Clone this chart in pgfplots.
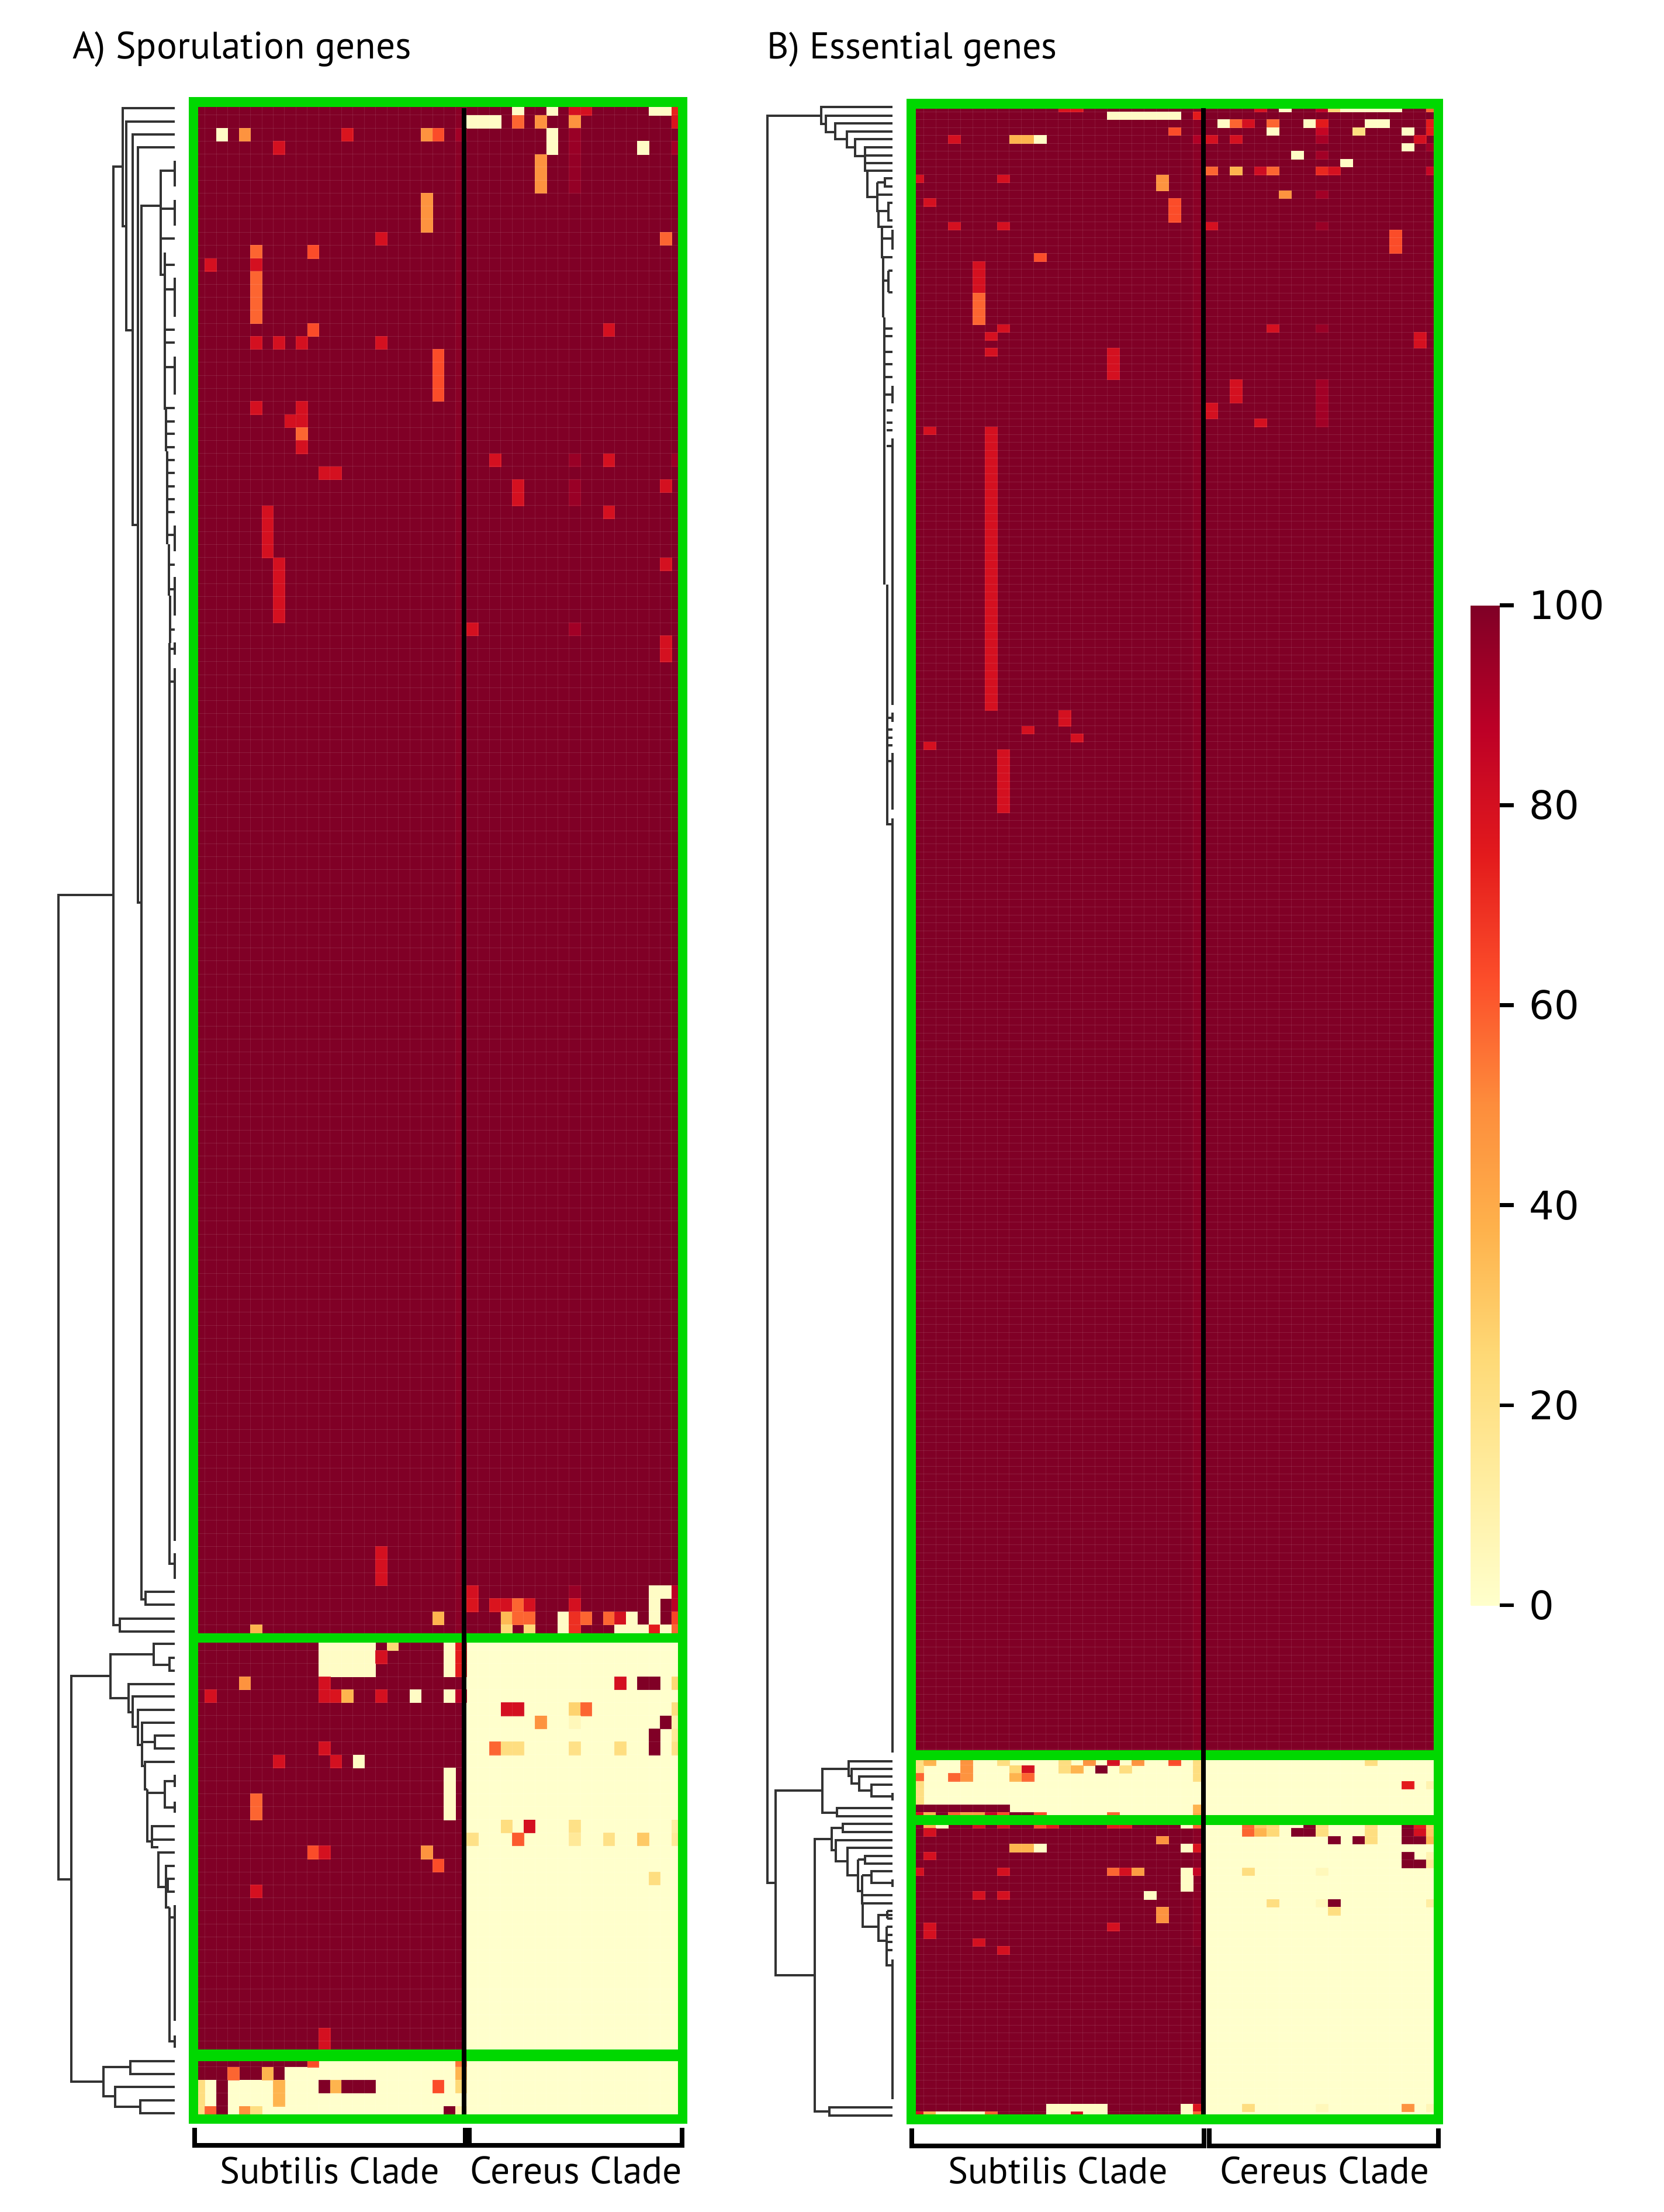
\documentclass[border=0pt]{standalone}
\usepackage{pgfplots}
\usepackage{fontspec}
\pgfplotsset{compat=1.18}
\setmainfont{PT Sans}
\newfontfamily\tickfont{DejaVu Sans}
\definecolor{dk}{HTML}{800026}
\definecolor{dkt}{HTML}{8A0026}
\definecolor{pale}{HTML}{FFFFCC}
\definecolor{grn}{HTML}{00D800}
\definecolor{den}{HTML}{333333}
\newcommand\rect[5]{\addplot[fill=#1,draw=none,forget plot] coordinates {(#2,#3)(#4,#3)(#4,#5)(#2,#5)} -- cycle;}
\pgfplotsset{
  cellsA/.style={scatter,only marks,forget plot,mark=square*,mark size=2.434pt,
    mark options={yscale=1.1433,line width=0.02pt},point meta=explicit,
    scatter/use mapped color={draw=mapped color,fill=mapped color}},
  cellsB/.style={scatter,only marks,forget plot,mark=square*,mark size=2.621pt,
    mark options={yscale=0.6423,line width=0.02pt},point meta=explicit,
    scatter/use mapped color={draw=mapped color,fill=mapped color}},
  ylorrd/.style={colormap={ylorrd}{rgb255=(255,255,204) rgb255=(255,237,160) rgb255=(254,217,118) rgb255=(254,178,76) rgb255=(253,141,60) rgb255=(252,78,42) rgb255=(227,26,28) rgb255=(189,0,38) rgb255=(128,0,38)}},
}
\begin{document}
\begin{tikzpicture}
\begin{axis}[
  width=711.75pt,height=946pt,scale only axis,
  xmin=0,xmax=2847,ymin=0,ymax=3784,y dir=reverse,
  hide axis,clip=false,clip mode=individual,ylorrd,
  point meta min=0,point meta max=100,
  unbounded coords=jump,
  colorbar,
  colorbar style={
    scale only axis,
    at={(0.88399,0.27431)},anchor=south west,
    width=12.25pt,height=427.7pt,
    y dir=normal,
    ymin=0,ymax=100,
    ytick={0,20,40,60,80,100},
    ytick pos=right,yticklabel pos=right,
    tick align=outside,
    major tick length=6pt,
    major tick style={line width=1.65pt,black},
    axis line style={draw=none},
    yticklabel style={font=\tickfont\fontsize{16.8}{20}\selectfont,xshift=3.2pt},
    /pgf/number format/assume math mode=true,
  },
]
\path (axis cs:0,0) -- (axis cs:2847,3784);
% ---------- backgrounds, panel A
\rect{dk}{331}{174.5}{1168}{3625}
\rect{dkt}{778.8}{174.5}{798.3}{2801.2}
\rect{pale}{798.3}{2801.2}{1168}{3625}
\rect{pale}{545.2}{3513.5}{778.8}{3535.8}
\rect{pale}{486.8}{3535.8}{778.8}{3558}
\rect{pale}{331}{3558}{798.3}{3625}
% ---------- backgrounds, panel B
\rect{dk}{1559}{177.5}{2461}{3625.8}
\rect{dkt}{2041.3}{177.5}{2062.3}{3330}
\rect{pale}{2062.3}{3006.2}{2461}{3625.8}
\rect{pale}{1559}{3006.2}{2062.3}{3113.9}
% ---------- cells, panel A: column, row, value
\addplot[cellsA] table[row sep=\\,x expr=331+19.47*(\thisrow{c}+0.5),y expr=174.5+22.26*(\thisrow{r}+0.5),meta=v] {
c r v\\
28 0 2\\ 31 0 2\\ 33 0 80\\ 34 0 80\\ 40 0 2\\ 41 0 2\\ 42 0 73\\
24 1 2\\ 25 1 2\\ 26 1 2\\ 28 1 58\\ 30 1 48\\ 33 1 48\\ 42 1 78\\
2 2 2\\ 4 2 48\\ 13 2 78\\ 20 2 48\\ 21 2 63\\ 23 2 93\\ 31 2 2\\ 33 2 95\\
7 3 80\\ 31 3 2\\ 33 3 95\\ 39 3 2\\ 42 3 93\\
30 4 48\\ 33 4 96\\ 30 5 48\\ 33 5 96\\ 30 6 48\\ 33 6 96\\
20 7 48\\ 20 8 48\\ 20 9 48\\
16 10 80\\ 41 10 58\\
5 11 58\\ 10 11 63\\
1 12 80\\ 5 12 80\\
5 13 58\\ 5 14 58\\ 5 15 58\\ 5 16 58\\
10 17 63\\ 36 17 80\\
5 18 80\\ 7 18 80\\ 9 18 80\\ 16 18 80\\
21 19 63\\ 21 20 63\\ 21 21 63\\ 21 22 63\\
5 23 80\\ 9 23 80\\
8 24 80\\ 9 24 80\\
9 25 58\\ 9 26 80\\
26 27 80\\ 33 27 95\\ 36 27 80\\ 42 27 95\\
11 28 80\\ 12 28 80\\
28 29 80\\ 33 29 95\\ 41 29 80\\
28 30 80\\ 33 30 95\\
6 31 80\\ 36 31 80\\ 6 32 80\\ 6 33 80\\ 6 34 80\\
7 35 80\\ 41 35 80\\ 7 36 80\\ 7 37 80\\ 7 38 80\\ 7 39 80\\
24 40 80\\ 33 40 93\\
41 41 80\\ 41 42 80\\
16 111 80\\ 16 112 80\\ 16 113 80\\
24 114 80\\ 33 114 95\\ 40 114 2\\ 41 114 2\\ 42 114 88\\
24 115 78\\ 26 115 78\\ 27 115 80\\ 28 115 58\\ 29 115 80\\ 33 115 80\\ 40 115 2\\ 42 115 88\\
21 116 37\\ 27 116 35\\ 28 116 58\\ 29 116 58\\ 32 116 2\\ 33 116 70\\ 34 116 58\\ 36 116 58\\ 37 116 80\\ 38 116 2\\ 40 116 2\\ 42 116 65\\
5 117 37\\ 27 117 25\\ 29 117 25\\ 32 117 2\\ 33 117 70\\ 37 117 2\\ 38 117 2\\ 39 117 2\\ 40 117 75\\ 41 117 2\\ 42 117 58\\
11 118 2\\ 12 118 2\\ 13 118 2\\ 14 118 2\\ 15 118 2\\ 17 118 25\\ 22 118 2\\ 23 118 75\\
11 119 2\\ 12 119 2\\ 13 119 2\\ 14 119 2\\ 15 119 2\\ 16 119 80\\ 22 119 2\\ 23 119 75\\
11 120 2\\ 12 120 2\\ 13 120 2\\ 14 120 2\\ 15 120 2\\ 22 120 2\\ 23 120 75\\
4 121 48\\ 11 121 80\\ 37 121 80\\ 39 121 100\\ 40 121 100\\ 42 121 25\\
1 122 80\\ 11 122 80\\ 12 122 78\\ 13 122 37\\ 16 122 80\\ 19 122 2\\ 22 122 2\\ 23 122 88\\
27 123 80\\ 28 123 80\\ 33 123 27\\ 34 123 58\\ 42 123 22\\
30 124 48\\ 33 124 5\\ 41 124 100\\ 42 124 10\\
40 125 100\\ 42 125 15\\
11 126 80\\ 26 126 58\\ 27 126 22\\ 28 126 22\\ 33 126 20\\ 37 126 22\\ 40 126 100\\ 42 126 20\\
7 127 80\\ 12 127 80\\ 14 127 2\\
22 128 2\\ 22 129 2\\ 22 130 2\\ 22 131 2\\ 5 130 58\\ 5 131 58\\
27 132 22\\ 29 132 80\\ 33 132 20\\ 42 132 12\\
24 133 20\\ 28 133 60\\ 33 133 15\\ 36 133 20\\ 39 133 30\\ 42 133 15\\
10 134 63\\ 11 134 80\\ 20 134 48\\
21 135 63\\ 40 136 22\\ 5 137 80\\ 11 148 80\\ 11 149 80\\
10 150 63\\ 23 150 55\\
3 151 58\\ 6 151 37\\ 23 151 37\\
0 152 22\\ 2 152 100\\ 7 152 37\\ 11 152 100\\ 12 152 37\\ 13 152 100\\ 14 152 100\\ 15 152 100\\ 21 152 63\\ 23 152 25\\
0 153 22\\ 2 153 100\\ 7 153 37\\
0 154 22\\ 1 154 58\\ 2 154 100\\ 4 154 48\\ 5 154 22\\ 22 154 100\\ 23 154 10\\
};
% ---------- cells, panel B: column, row, value
\addplot[cellsB] table[row sep=\\,x expr=1559+20.97*(\thisrow{c}+0.5),y expr=177.5+13.47*(\thisrow{r}+0.5),meta=v] {
c r v\\
12 0 78\\ 13 0 78\\ 28 0 80\\ 30 0 2\\ 33 0 88\\ 34 0 25\\ 35 0 2\\ 36 0 2\\ 37 0 2\\ 38 0 2\\ 39 0 2\\ 42 0 58\\
16 1 2\\ 17 1 2\\ 18 1 2\\ 19 1 2\\ 20 1 2\\ 21 1 2\\ 23 1 75\\
25 2 2\\ 26 2 58\\ 27 2 80\\ 29 2 58\\ 32 2 2\\ 33 2 75\\ 37 2 2\\ 38 2 2\\ 42 2 75\\
21 3 63\\ 29 3 2\\ 33 3 85\\ 36 3 22\\ 40 3 2\\ 42 3 75\\
3 4 80\\ 8 4 37\\ 9 4 37\\ 10 4 2\\ 23 4 90\\ 24 4 80\\ 26 4 80\\ 33 4 92\\ 41 4 80\\
40 5 2\\ 42 5 94\\ 31 6 2\\ 33 6 93\\ 35 7 2\\
24 8 58\\ 26 8 37\\ 28 8 82\\ 29 8 58\\ 33 8 72\\ 34 8 80\\ 42 8 85\\
0 9 80\\ 7 9 80\\ 20 9 48\\ 20 10 48\\ 30 11 48\\ 33 11 93\\
1 12 80\\ 21 12 63\\ 21 13 63\\ 21 14 63\\
3 15 80\\ 7 15 80\\ 24 15 80\\ 33 15 95\\
39 16 63\\ 39 17 63\\ 39 18 63\\ 10 19 63\\
5 20 80\\ 5 21 80\\ 5 22 80\\ 5 23 80\\ 5 24 58\\ 5 25 58\\ 5 26 58\\ 5 27 58\\
7 28 80\\ 29 28 80\\ 33 28 95\\
6 29 80\\ 41 29 80\\ 41 30 80\\ 6 31 80\\
16 31 80\\ 16 32 80\\ 16 33 80\\ 16 34 80\\
26 35 80\\ 26 36 80\\ 26 37 80\\ 33 35 93\\ 33 36 93\\ 33 37 93\\ 33 38 93\\ 33 39 93\\ 33 40 93\\
24 38 80\\ 24 39 80\\ 28 40 80\\ 1 41 80\\
6 41 80\\ 6 42 80\\ 6 43 80\\ 6 44 80\\ 6 45 80\\ 6 46 80\\ 6 47 80\\ 6 48 80\\ 6 49 80\\ 6 50 80\\ 6 51 80\\ 6 52 80\\
6 53 80\\ 6 54 80\\ 6 55 80\\ 6 56 80\\ 6 57 80\\ 6 58 80\\ 6 59 80\\ 6 60 80\\ 6 61 80\\ 6 62 80\\ 6 63 80\\ 6 64 80\\
6 65 80\\ 6 66 80\\ 6 67 80\\ 6 68 80\\ 6 69 80\\ 6 70 80\\ 6 71 80\\ 6 72 80\\ 6 73 80\\ 6 74 80\\ 6 75 80\\ 6 76 80\\
12 77 80\\ 12 78 80\\ 9 79 80\\ 13 80 80\\ 1 81 80\\
7 82 80\\ 7 83 80\\ 7 84 80\\ 7 85 80\\ 7 86 80\\ 7 87 80\\ 7 88 80\\ 7 89 80\\
0 210 22\\ 1 210 37\\ 4 210 48\\ 7 210 22\\ 12 210 22\\ 14 210 48\\ 16 210 80\\ 18 210 48\\ 21 210 63\\ 23 210 22\\ 37 210 22\\
0 211 22\\ 4 211 48\\ 8 211 25\\ 9 211 80\\ 12 211 22\\ 13 211 37\\ 15 211 100\\ 17 211 22\\ 23 211 22\\
0 212 58\\ 3 212 58\\ 4 212 48\\ 8 212 37\\ 9 212 58\\ 23 212 22\\
0 213 22\\ 40 213 75\\ 42 213 8\\ 0 214 22\\ 0 215 22\\
0 216 100\\ 1 216 100\\ 2 216 100\\ 3 216 100\\ 4 216 100\\ 5 216 100\\ 6 216 100\\ 7 216 100\\ 23 216 37\\
0 217 80\\ 1 217 37\\ 2 217 100\\ 3 217 58\\ 4 217 45\\ 5 217 45\\ 6 217 85\\ 7 217 63\\ 8 217 100\\ 9 217 100\\ 10 217 63\\ 16 217 58\\ 23 217 40\\
1 218 37\\ 2 218 2\\ 5 218 80\\ 7 218 80\\ 10 218 63\\ 11 218 75\\ 16 218 75\\ 17 218 75\\ 22 218 2\\ 23 218 58\\
27 218 58\\ 28 218 30\\ 29 218 25\\ 32 218 100\\ 33 218 22\\ 37 218 22\\ 40 218 100\\ 41 218 75\\ 42 218 30\\
1 219 80\\ 27 219 58\\ 28 219 37\\ 29 219 25\\ 31 219 100\\ 32 219 100\\ 33 219 22\\ 37 219 22\\ 40 219 100\\ 41 219 80\\ 42 219 30\\
20 220 48\\ 34 220 100\\ 36 220 100\\ 37 220 22\\ 40 220 100\\ 41 220 100\\ 42 220 35\\
8 221 37\\ 9 221 37\\ 10 221 2\\ 22 221 2\\ 23 221 78\\
1 222 80\\ 40 222 100\\ 42 222 8\\
40 223 100\\ 41 223 100\\ 42 223 15\\
0 224 80\\ 7 224 80\\ 16 224 58\\ 17 224 80\\ 18 224 45\\ 22 224 2\\ 23 224 85\\ 27 224 22\\ 33 224 5\\
22 225 2\\ 22 226 2\\ 5 227 80\\ 7 227 80\\ 19 227 2\\
29 228 22\\ 33 228 5\\ 34 228 100\\ 42 228 12\\
20 229 48\\ 34 229 22\\ 20 230 48\\
1 231 80\\ 16 231 80\\ 1 232 80\\ 5 233 80\\ 7 234 80\\
11 254 2\\ 12 254 2\\ 13 254 2\\ 14 254 2\\ 15 254 2\\ 22 254 2\\ 23 254 78\\ 27 254 22\\ 33 254 5\\ 40 254 48\\ 42 254 6\\
0 255 80\\ 1 255 37\\ 2 255 2\\ 3 255 2\\ 4 255 2\\ 5 255 2\\ 6 255 58\\ 11 255 2\\ 12 255 2\\ 13 255 80\\ 14 255 2\\ 15 255 2\\ 22 255 2\\ 23 255 58\\
};
% ---------- faint cell lines
\pgfplotsinvokeforeach{1,...,154}{\draw[white,opacity=0.11,line width=0.2pt] (axis cs:331,{174.5+22.26*#1}) -- (axis cs:1168,{174.5+22.26*#1});}
\pgfplotsinvokeforeach{1,...,42}{\draw[white,opacity=0.09,line width=0.15pt] (axis cs:{331+19.47*#1},174.5) -- (axis cs:{331+19.47*#1},3625);}
\pgfplotsinvokeforeach{1,...,255}{\draw[white,opacity=0.11,line width=0.15pt] (axis cs:1559,{177.5+13.47*#1}) -- (axis cs:2461,{177.5+13.47*#1});}
\pgfplotsinvokeforeach{1,...,42}{\draw[white,opacity=0.09,line width=0.15pt] (axis cs:{1559+20.97*#1},177.5) -- (axis cs:{1559+20.97*#1},3625.8);}
% ---------- green boxes
\addplot[grn,line width=4.15pt,line join=miter,forget plot] coordinates {(331,174.5)(1168,174.5)(1168,3625)(331,3625)} -- cycle;
\addplot[grn,line width=4.15pt,forget plot] coordinates {(331,2802)(1168,2802)};
\addplot[grn,line width=4.8pt,forget plot] coordinates {(331,3516)(1168,3516)};
\addplot[grn,line width=4.15pt,line join=miter,forget plot] coordinates {(1559,177.5)(2461,177.5)(2461,3625.5)(1559,3625.5)} -- cycle;
\addplot[grn,line width=4.15pt,forget plot] coordinates {(1559,3002.7)(2461,3002.7)};
\addplot[grn,line width=4.15pt,forget plot] coordinates {(1559,3113.5)(2461,3113.5)};
% ---------- clade separators
\addplot[black,line width=2pt,forget plot] coordinates {(793.5,185)(793.5,3617)};
\addplot[black,line width=2pt,forget plot] coordinates {(2059,185)(2059,3617)};
% ---------- brackets
\addplot[black,line width=2pt,line join=miter,forget plot] coordinates {(333,3640)(333,3670)(795.6,3670)(795.6,3640)};
\addplot[black,line width=2pt,line join=miter,forget plot] coordinates {(803,3640)(803,3670)(1167,3670)(1167,3640)};
\addplot[black,line width=2pt,line join=miter,forget plot] coordinates {(1560,3641)(1560,3671)(2060,3671)(2060,3641)};
\addplot[black,line width=2pt,line join=miter,forget plot] coordinates {(2069,3641)(2069,3671)(2461,3671)(2461,3641)};
% ---------- dendrogram A
\addplot[den,line width=1pt,forget plot] coordinates {
(194,1531)(100,1531)(100,3215)(122,3215)(nan,nan)
(210,285)(194,285)(194,2780)(204.5,2780)(nan,nan)
(299,185)(210,185)(210,387)(215.5,387)(nan,nan)
(299,208)(215.5,208)(215.5,565)(227,565)(nan,nan)
(299,230)(227,230)(227,898)(236,898)(nan,nan)
(299,252)(236,252)(236,1544)(241.7,1544)(nan,nan)
(275,352)(241.7,352)(241.7,2736)(248.5,2736)(nan,nan)
(299,2723)(248.5,2723)(248.5,2745)(299,2745)(nan,nan)
(299,2769)(204.5,2769)(204.5,2791)(299,2791)(nan,nan)
(299,292)(275,292)(275,470)(282,470)(nan,nan)
(299,275)(299,319)(nan,nan)
(277,357)(299,357)(nan,nan)(299,342)(299,386)(nan,nan)
(275,408)(299,408)(nan,nan)
(282,432)(282,528)(nan,nan)(282,453)(299,453)(nan,nan)
(282,495)(299,495)(nan,nan)(299,475)(299,542)(nan,nan)
(281.5,528)(281.5,701)(nan,nan)
(281.5,564)(299,564)(nan,nan)(281.5,586)(299,586)(nan,nan)
(281.5,627.5)(299,627.5)(nan,nan)(299,610)(299,675)(nan,nan)
(284,698)(284,772)(nan,nan)
(284,698)(299,698)(nan,nan)(284,720.5)(299,720.5)(nan,nan)(284,742)(299,742)(nan,nan)(284,764.6)(299,764.6)(nan,nan)
(286,772)(286,931)(nan,nan)
(286,787)(299,787)(nan,nan)(286,809)(299,809)(nan,nan)(286,831.5)(299,831.5)(nan,nan)(286,854)(299,854)(nan,nan)(286,875.5)(299,875.5)(nan,nan)
(286,914.6)(299,914.6)(nan,nan)(299,898.5)(299,942.5)(nan,nan)
(289,931)(289,1019)(nan,nan)
(289,965.5)(299,965.5)(nan,nan)
(289,1007.6)(299,1007.6)(nan,nan)(299,987)(299,1053)(nan,nan)
(291,1019)(291,1100)(nan,nan)
(291,1076.5)(299,1076.5)(nan,nan)
(291,1110)(299,1110)(nan,nan)(299,1099)(299,1120)(nan,nan)
(290,1100)(290,2674.5)(299,2674.5)(nan,nan)
(290,1166)(299,1166)(nan,nan)(299,1143)(299,2636)(nan,nan)(299,2657)(299,2701)(nan,nan)
(189,2867)(122,2867)(122,3561)(177,3561)(nan,nan)
(263,2830)(189,2830)(189,2905)(220,2905)(nan,nan)
(299,2812)(263,2812)(263,2848)(290,2848)(nan,nan)
(299,2836)(290,2836)(290,2858)(299,2858)(nan,nan)
(299,2880.5)(220,2880.5)(220,2929)(227,2929)(nan,nan)
(299,2902)(227,2902)(227,2954)(236,2954)(nan,nan)
(299,2924.5)(236,2924.5)(236,2985)(243,2985)(nan,nan)
(299,2947)(243,2947)(243,3021)(248,3021)(nan,nan)
(243,2980)(265,2980)(nan,nan)
(299,2969)(265,2969)(265,2991)(299,2991)(nan,nan)
(299,3014)(248,3014)(248,3061)(252,3061)(nan,nan)
(250,3067)(281.5,3067)(nan,nan)
(299,3047)(281.5,3047)(281.5,3092)(299,3092)(nan,nan)
(299,3036)(299,3057)(nan,nan)(299,3082)(299,3101)(nan,nan)
(252,3061)(252,3150)(260,3150)(nan,nan)
(299,3124)(260,3124)(260,3160)(271,3160)(nan,nan)
(299,3147)(262,3147)(nan,nan)
(299,3169)(271,3169)(271,3228)(287,3228)(nan,nan)
(299,3191.5)(284,3191.5)(284,3263)(290,3263)(nan,nan)
(299,3214)(287,3214)(287,3236)(299,3236)(nan,nan)
(290,3280)(299,3280)(nan,nan)(299,3259)(299,3457)(nan,nan)
(290,3263)(290,3492)(299,3492)(nan,nan)(299,3482)(299,3503)(nan,nan)
(223,3536)(177,3536)(177,3586)(197,3586)(nan,nan)
(299,3525.5)(223,3525.5)(223,3548)(299,3548)(nan,nan)
(299,3570)(197,3570)(197,3604)(240,3604)(nan,nan)
(299,3593)(240,3593)(240,3615)(299,3615)
};
% ---------- dendrogram B
\addplot[den,line width=1pt,forget plot] coordinates {
(1405,197.7)(1313,197.7)(1313,3221)(1327,3221)(nan,nan)
(1527,183)(1405,183)(1405,211.7)(1412.5,211.7)(nan,nan)
(1527,197.7)(1412.5,197.7)(1412.5,225.7)(1428.6,225.7)(nan,nan)
(1527,211)(1428.6,211)(1428.6,238)(1448.5,238)(nan,nan)
(1527,225)(1448.5,225)(1448.5,251.7)(1463,251.7)(nan,nan)
(1527,238)(1463,238)(1463,266.7)(1480,266.7)(nan,nan)
(1527,251.7)(1480,251.7)(1480,292)(1527,292)(nan,nan)
(1480,265.7)(1527,265.7)(nan,nan)(1480,278.7)(1527,278.7)(nan,nan)
(1483.7,292)(1483.7,336.7)(1500.5,336.7)(nan,nan)
(1500.5,311.7)(1514,311.7)(nan,nan)(1527,305)(1514,305)(1514,319)(1527,319)(nan,nan)
(1500.5,333)(1527,333)(nan,nan)
(1500.5,311.7)(1500.5,360.7)(1503,360.7)(nan,nan)
(1503,360.7)(1520,360.7)(nan,nan)(1527,347)(1520,347)(1520,376.7)(1527,376.7)(nan,nan)
(1503,360.7)(1503,388)(1527,388)(nan,nan)
(1503,388)(1509,388)(1509,440)(1527,440)(nan,nan)
(1509,408)(1527,408)(nan,nan)(1527,393)(1527,427)(nan,nan)
(1510.5,440)(1510.5,543)(nan,nan)
(1510.5,480)(1520,480)(nan,nan)(1520,463)(1520,500)(nan,nan)(1527,463)(1520,463)(nan,nan)(1527,500)(1520,500)(nan,nan)
(1513,543)(1513,1000)(nan,nan)
(1513,561.7)(1527,561.7)(nan,nan)(1513,575)(1527,575)(nan,nan)(1513,602)(1527,602)(nan,nan)(1513,623)(1527,623)(nan,nan)
(1513,645)(1527,645)(nan,nan)(1513,675)(1527,675)(nan,nan)(1527,660)(1527,690)(nan,nan)
(1516.6,702)(1527,702)(nan,nan)(1516.6,723)(1527,723)(nan,nan)(1516.6,736)(1527,736)(nan,nan)
(1516.6,763)(1527,763)(nan,nan)(1527,750)(1527,1206)(nan,nan)
(1518,1000)(1518,1410)(1527,1410)(nan,nan)
(1518,1228)(1527,1228)(nan,nan)(1527,1219)(1527,1235)(nan,nan)
(1518,1248)(1527,1248)(nan,nan)(1518,1261.5)(1527,1261.5)(nan,nan)(1518,1275)(1527,1275)(nan,nan)
(1518,1302)(1527,1302)(nan,nan)(1527,1288)(1527,1385)(nan,nan)
(1527,1400)(1527,2998)(nan,nan)
(1407,3063)(1327,3063)(1327,3379)(1394,3379)(nan,nan)
(1451.5,3025.5)(1407,3025.5)(1407,3100.5)(1432,3100.5)(nan,nan)
(1527,3013)(1451.5,3013)(1451.5,3038)(1457,3038)(nan,nan)
(1527,3026)(1457,3026)(1457,3051)(1470,3051)(nan,nan)
(1527,3039)(1470,3039)(1470,3063)(1491,3063)(nan,nan)
(1527,3052.6)(1491,3052.6)(1491,3073)(1527,3073)(nan,nan)
(1527,3067)(1527,3080)(nan,nan)
(1527,3092.5)(1432,3092.5)(1432,3107)(1527,3107)(nan,nan)
(1422.5,3146)(1394,3146)(1394,3612)(1418.6,3612)(nan,nan)
(1441.6,3127)(1422.5,3127)(1422.5,3165.4)(1430,3165.4)(nan,nan)
(1527,3120)(1441.6,3120)(1441.6,3134)(1527,3134)(nan,nan)
(1527,3148)(1430,3148)(1430,3184)(1450,3184)(nan,nan)
(1527,3161)(1450,3161)(1450,3208)(1468,3208)(nan,nan)
(1468,3181)(1480,3181)(nan,nan)(1527,3174.5)(1480,3174.5)(1480,3188)(1527,3188)(nan,nan)
(1468,3181)(1468,3234.6)(1474.5,3234.6)(nan,nan)
(1474.5,3208)(1491,3208)(nan,nan)(1527,3201)(1491,3201)(1491,3221)(1527,3221)(nan,nan)
(1527,3215)(1527,3228)(nan,nan)
(1474.5,3208)(1474.5,3256)(1527,3256)(nan,nan)(1474.5,3241.5)(1527,3241.5)(nan,nan)
(1476,3256)(1476,3296)(1503,3296)(nan,nan)
(1527,3275.5)(1503,3275.5)(1503,3319.7)(1516.6,3319.7)(nan,nan)
(1518,3269)(1518,3282)(nan,nan)(1518,3269)(1527,3269)(nan,nan)(1518,3282)(1527,3282)(nan,nan)
(1516.6,3296)(1516.6,3362)(1527,3362)(nan,nan)
(1516.6,3296)(1527,3296)(nan,nan)(1516.6,3309.6)(1527,3309.6)(nan,nan)(1516.6,3322)(1527,3322)(nan,nan)(1516.6,3335.6)(1527,3335.6)(nan,nan)
(1527,3351.6)(1527,3591)(nan,nan)
(1527,3605)(1418.6,3605)(1418.6,3618.6)(1527,3618.6)
};
% ---------- titles and clade names
\node[anchor=base west,font=\fontsize{16.3}{19}\selectfont,inner sep=0pt] at (axis cs:123.6,100) {A) Sporulation genes};
\node[anchor=base west,font=\fontsize{16}{19}\selectfont,inner sep=0pt] at (axis cs:1312,100) {B) Essential genes};
\node[anchor=base,font=\fontsize{16}{19}\selectfont,inner sep=0pt] at (axis cs:564,3735) {Subtilis Clade};
\node[anchor=base,font=\fontsize{16.4}{19}\selectfont,inner sep=0pt] at (axis cs:986,3735) {Cereus Clade};
\node[anchor=base,font=\fontsize{16}{19}\selectfont,inner sep=0pt] at (axis cs:1810,3735) {Subtilis Clade};
\node[anchor=base,font=\fontsize{16.2}{19}\selectfont,inner sep=0pt] at (axis cs:2266,3735) {Cereus Clade};
\end{axis}
\end{tikzpicture}
\end{document}
